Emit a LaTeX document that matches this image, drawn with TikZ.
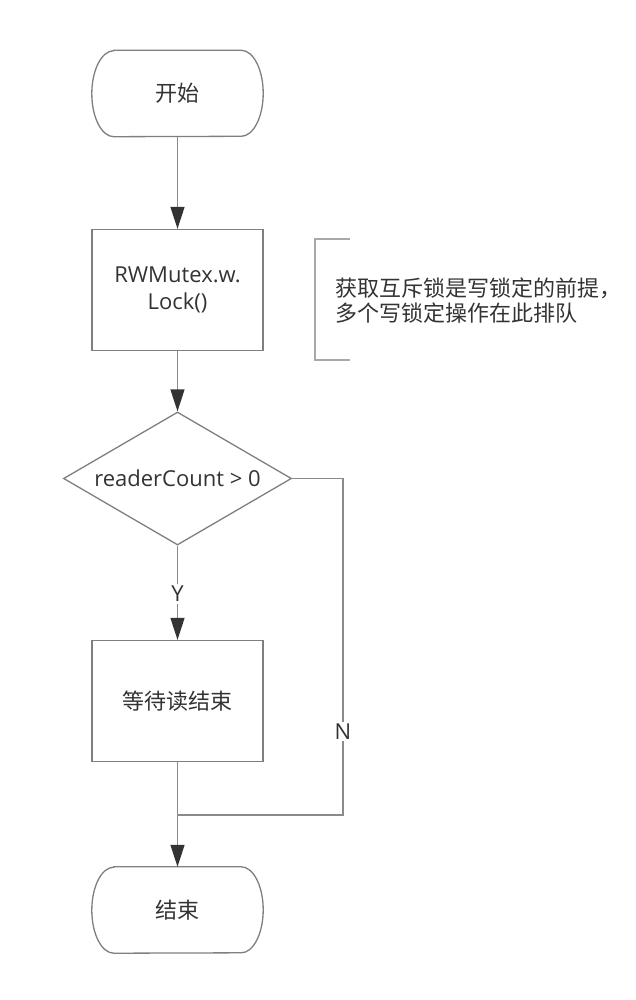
\documentclass[tikz,border=0pt]{standalone}
\usepackage{fontspec}
\setmainfont{Open Sans}
\newfontfamily\cjk{Noto Sans CJK SC}
\usetikzlibrary{arrows.meta,shapes.geometric,calc}
\definecolor{edgegray}{HTML}{7F7F7F}
\definecolor{linegray}{HTML}{8A8A8A}
\definecolor{headgray}{HTML}{333333}
\definecolor{brkgray}{HTML}{A8A8A8}
\definecolor{ink}{HTML}{333333}

\begin{document}
\begin{tikzpicture}[x=1pt,y=-1pt,
  every node/.style={text=ink,font=\fontsize{22}{27}\selectfont},
  term/.style={minimum width=171pt,minimum height=86pt},
  outline/.style={draw=edgegray,line width=1.3pt},
  proc/.style={outline,minimum width=171pt,minimum height=121pt,align=center},
  cond/.style={outline,diamond,aspect=1.71,inner sep=0pt,minimum width=228pt,minimum height=133pt},
  flow/.style={draw=linegray,line width=1.3pt},
  flowarr/.style={flow,-{Triangle[length=22pt,width=14pt,color=headgray]}},
  lab/.style={fill=white,inner sep=2pt}]
\useasboundingbox (0,0) rectangle (636,1000);
\node[term] (start) at (177.5,93.5) {\cjk 开始};
\draw[outline] ($(start.north west)+(22,0)$) -- ($(start.north east)+(-22,0)$)
  arc[start angle=90,end angle=-90,x radius=22pt,y radius=43pt]
  -- ($(start.south west)+(22,0)$)
  arc[start angle=270,end angle=90,x radius=22pt,y radius=43pt] -- cycle;
\node[proc] (lock) at (177.5,290) {RWMutex.w.\\Lock()};
\node[cond] (check) at (177.5,478.5) {readerCount > 0};
\node[proc] (wait) at (177.5,701) {\cjk 等待读结束};
\node[term] (end) at (177.5,910) {\cjk 结束};
\draw[outline] ($(end.north west)+(22,0)$) -- ($(end.north east)+(-22,0)$)
  arc[start angle=90,end angle=-90,x radius=22pt,y radius=43pt]
  -- ($(end.south west)+(22,0)$)
  arc[start angle=270,end angle=90,x radius=22pt,y radius=43pt] -- cycle;
\node[anchor=west,align=left,font=\cjk\fontsize{22}{25}\selectfont] (note) at (332,301)
  {获取互斥锁是写锁定的前提，\\多个写锁定操作在此排队};
\draw[draw=brkgray,line width=1.3pt] (350,239) -- (315,239) -- (315,360) -- (350,360);
\coordinate (nturn) at (343,815);
\coordinate (join) at (177.5,815);
\draw[flowarr] (start) -- (lock);
\draw[flowarr] (lock) -- (check);
\draw[flowarr] (check) -- node[lab,pos=0.51] (ylab) {Y} (wait);
\draw[flow] (wait) -- (join);
\draw[flow] (check.east) -| node[lab,pos=0.876] (nlab) {N} (nturn) -- (join);
\draw[flowarr] (join) -- (end);
\end{tikzpicture}
\end{document}
